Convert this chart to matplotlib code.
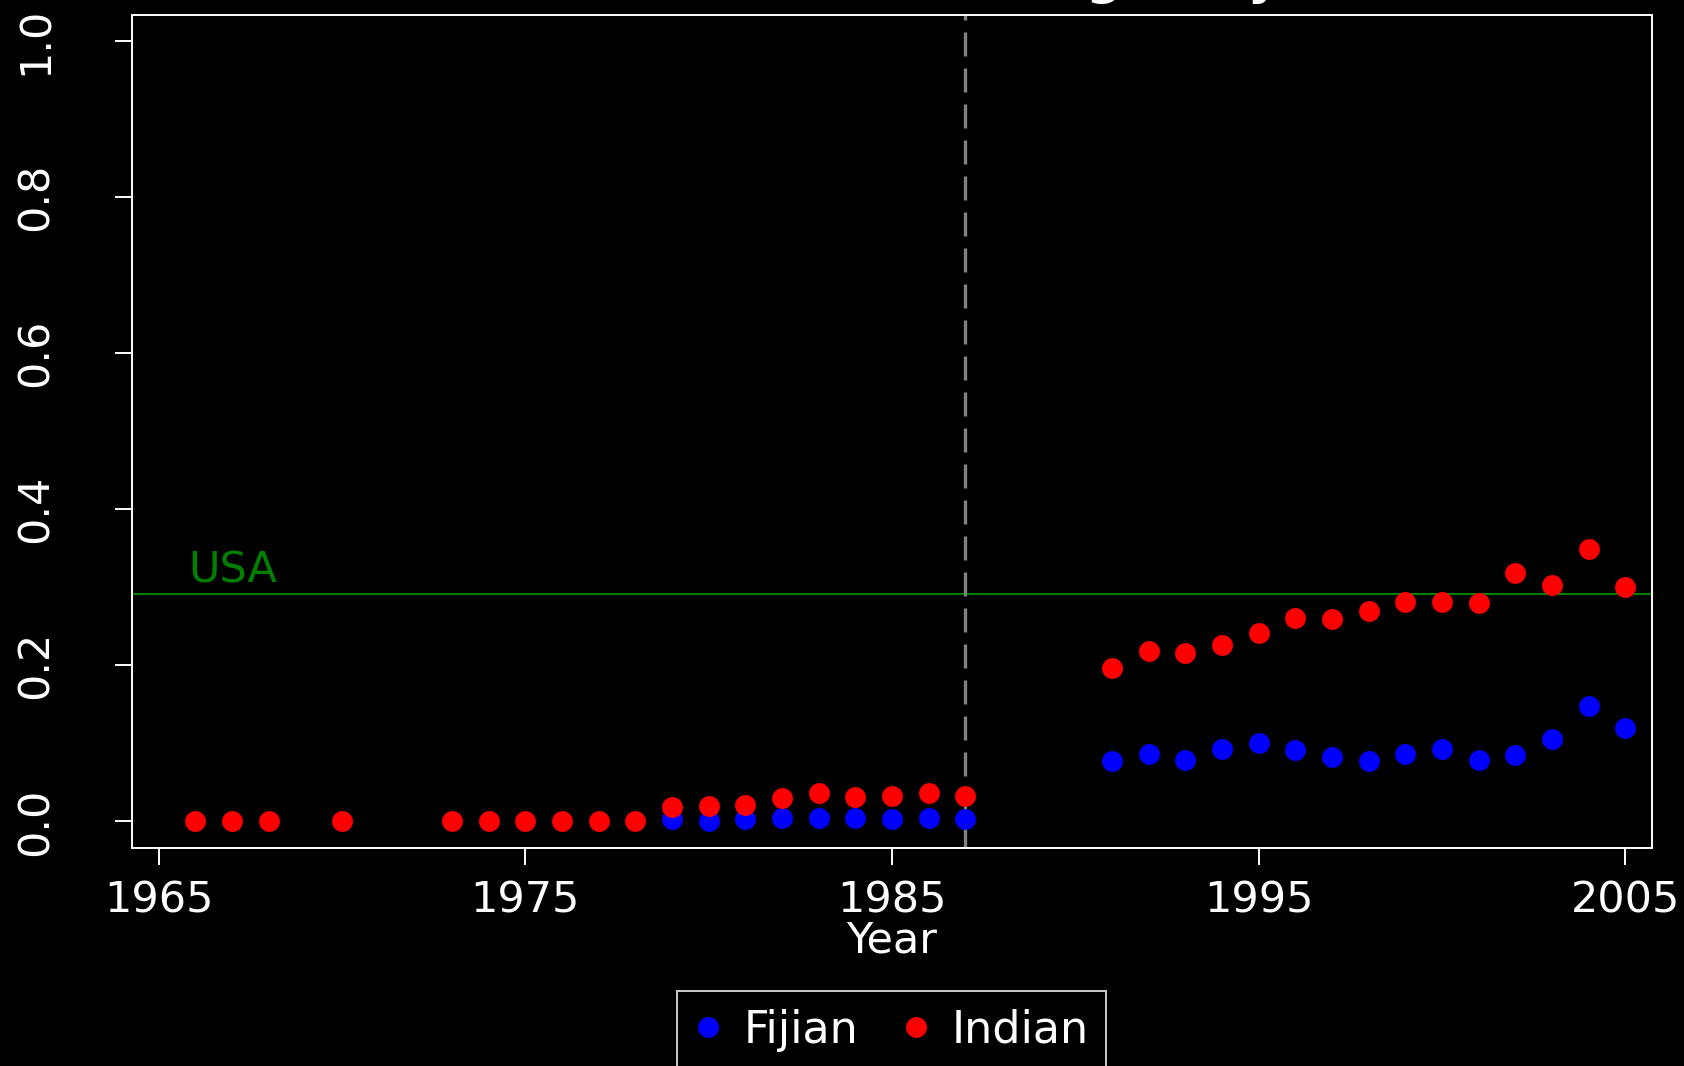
import matplotlib
matplotlib.use("Agg")
import matplotlib.pyplot as plt
import numpy as np

# data
years_indian = [1966, 1967, 1968, 1970, 1973, 1974, 1975, 1976, 1977, 1978,
                1979, 1980, 1981, 1982, 1983, 1984, 1985, 1986, 1987,
                1991, 1992, 1993, 1994, 1995, 1996, 1997, 1998, 1999, 2000,
                2001, 2002, 2003, 2004, 2005]
share_indian = [0.0, 0.0, 0.0, 0.0, 0.0, 0.0, 0.0, 0.0, 0.0, 0.0,
                0.018, 0.020, 0.021, 0.030, 0.036, 0.031, 0.032, 0.036, 0.032,
                0.197, 0.218, 0.216, 0.226, 0.242, 0.261, 0.259, 0.269, 0.281, 0.281,
                0.280, 0.318, 0.303, 0.349, 0.300]

years_fijian = [1979, 1980, 1981, 1982, 1983, 1984, 1985, 1986, 1987,
                1991, 1992, 1993, 1994, 1995, 1996, 1997, 1998, 1999, 2000,
                2001, 2002, 2003, 2004, 2005]
share_fijian = [0.003, 0.001, 0.003, 0.005, 0.005, 0.004, 0.003, 0.004, 0.003,
                0.077, 0.087, 0.079, 0.093, 0.100, 0.091, 0.083, 0.077, 0.086, 0.093,
                0.079, 0.085, 0.106, 0.148, 0.120]

usa_level = 0.291
coup_year = 1987
x_ticks = [1965, 1975, 1985, 1995, 2005]
y_ticks = [0.0, 0.2, 0.4, 0.6, 0.8, 1.0]

W, H = 1684, 1066
fig = plt.figure(figsize=(W / 100, H / 100), dpi=100, facecolor="black")
ax = fig.add_axes([132 / W, 1 - 848 / H, (1652 - 132) / W, (848 - 15) / H])
ax.set_facecolor("black")

fs = 31
ax.plot(years_fijian, share_fijian, "o", color="blue", ms=15, mec="none", label="Fijian", zorder=3)
ax.plot(years_indian, share_indian, "o", color="red", ms=15, mec="none", label="Indian", zorder=4)

ax.axhline(usa_level, color="green", lw=1.5, zorder=1)
ax.text(1965.8, usa_level + 0.015, "USA", color="green", fontsize=fs, va="baseline")
ax.axvline(coup_year, color="#808080", lw=2.4, ls=(0, (7.2, 3.6)), zorder=2)

ax.set_xlim(1964.27, 2005.73)
ax.set_ylim(-0.034, 1.033)
ax.set_xticks(x_ticks)
ax.set_xticklabels([str(t) for t in x_ticks])
ax.set_yticks(y_ticks)
ax.set_yticklabels(["%.1f" % t for t in y_ticks], rotation=90, va="center")

for s in ax.spines.values():
    s.set_color("white")
    s.set_linewidth(1.4)
ax.tick_params(colors="white", labelsize=fs, length=12, width=1.4)
ax.tick_params(axis="x", pad=11)
ax.tick_params(axis="y", pad=42)

ax.set_xlabel("Year", color="white", fontsize=fs, labelpad=-2)

# title sits mostly above the canvas, only descenders visible
fig.text(1280 / W, 1 + 6 / H, "Share of Seats in Governing Body", color="white",
         fontsize=36, fontweight="bold", ha="right", va="baseline")

leg = fig.legend(loc="center", bbox_to_anchor=(891.5 / W, 1 - 1030 / H), ncol=2,
                 fontsize=32, frameon=True, facecolor="black", edgecolor="white",
                 labelcolor="white", handlelength=0.6, handletextpad=0.5,
                 columnspacing=1.0, borderpad=0.4, borderaxespad=0, fancybox=False)
leg.get_frame().set_linewidth(1.4)

fig.savefig("out.png", dpi=100, facecolor="black")
